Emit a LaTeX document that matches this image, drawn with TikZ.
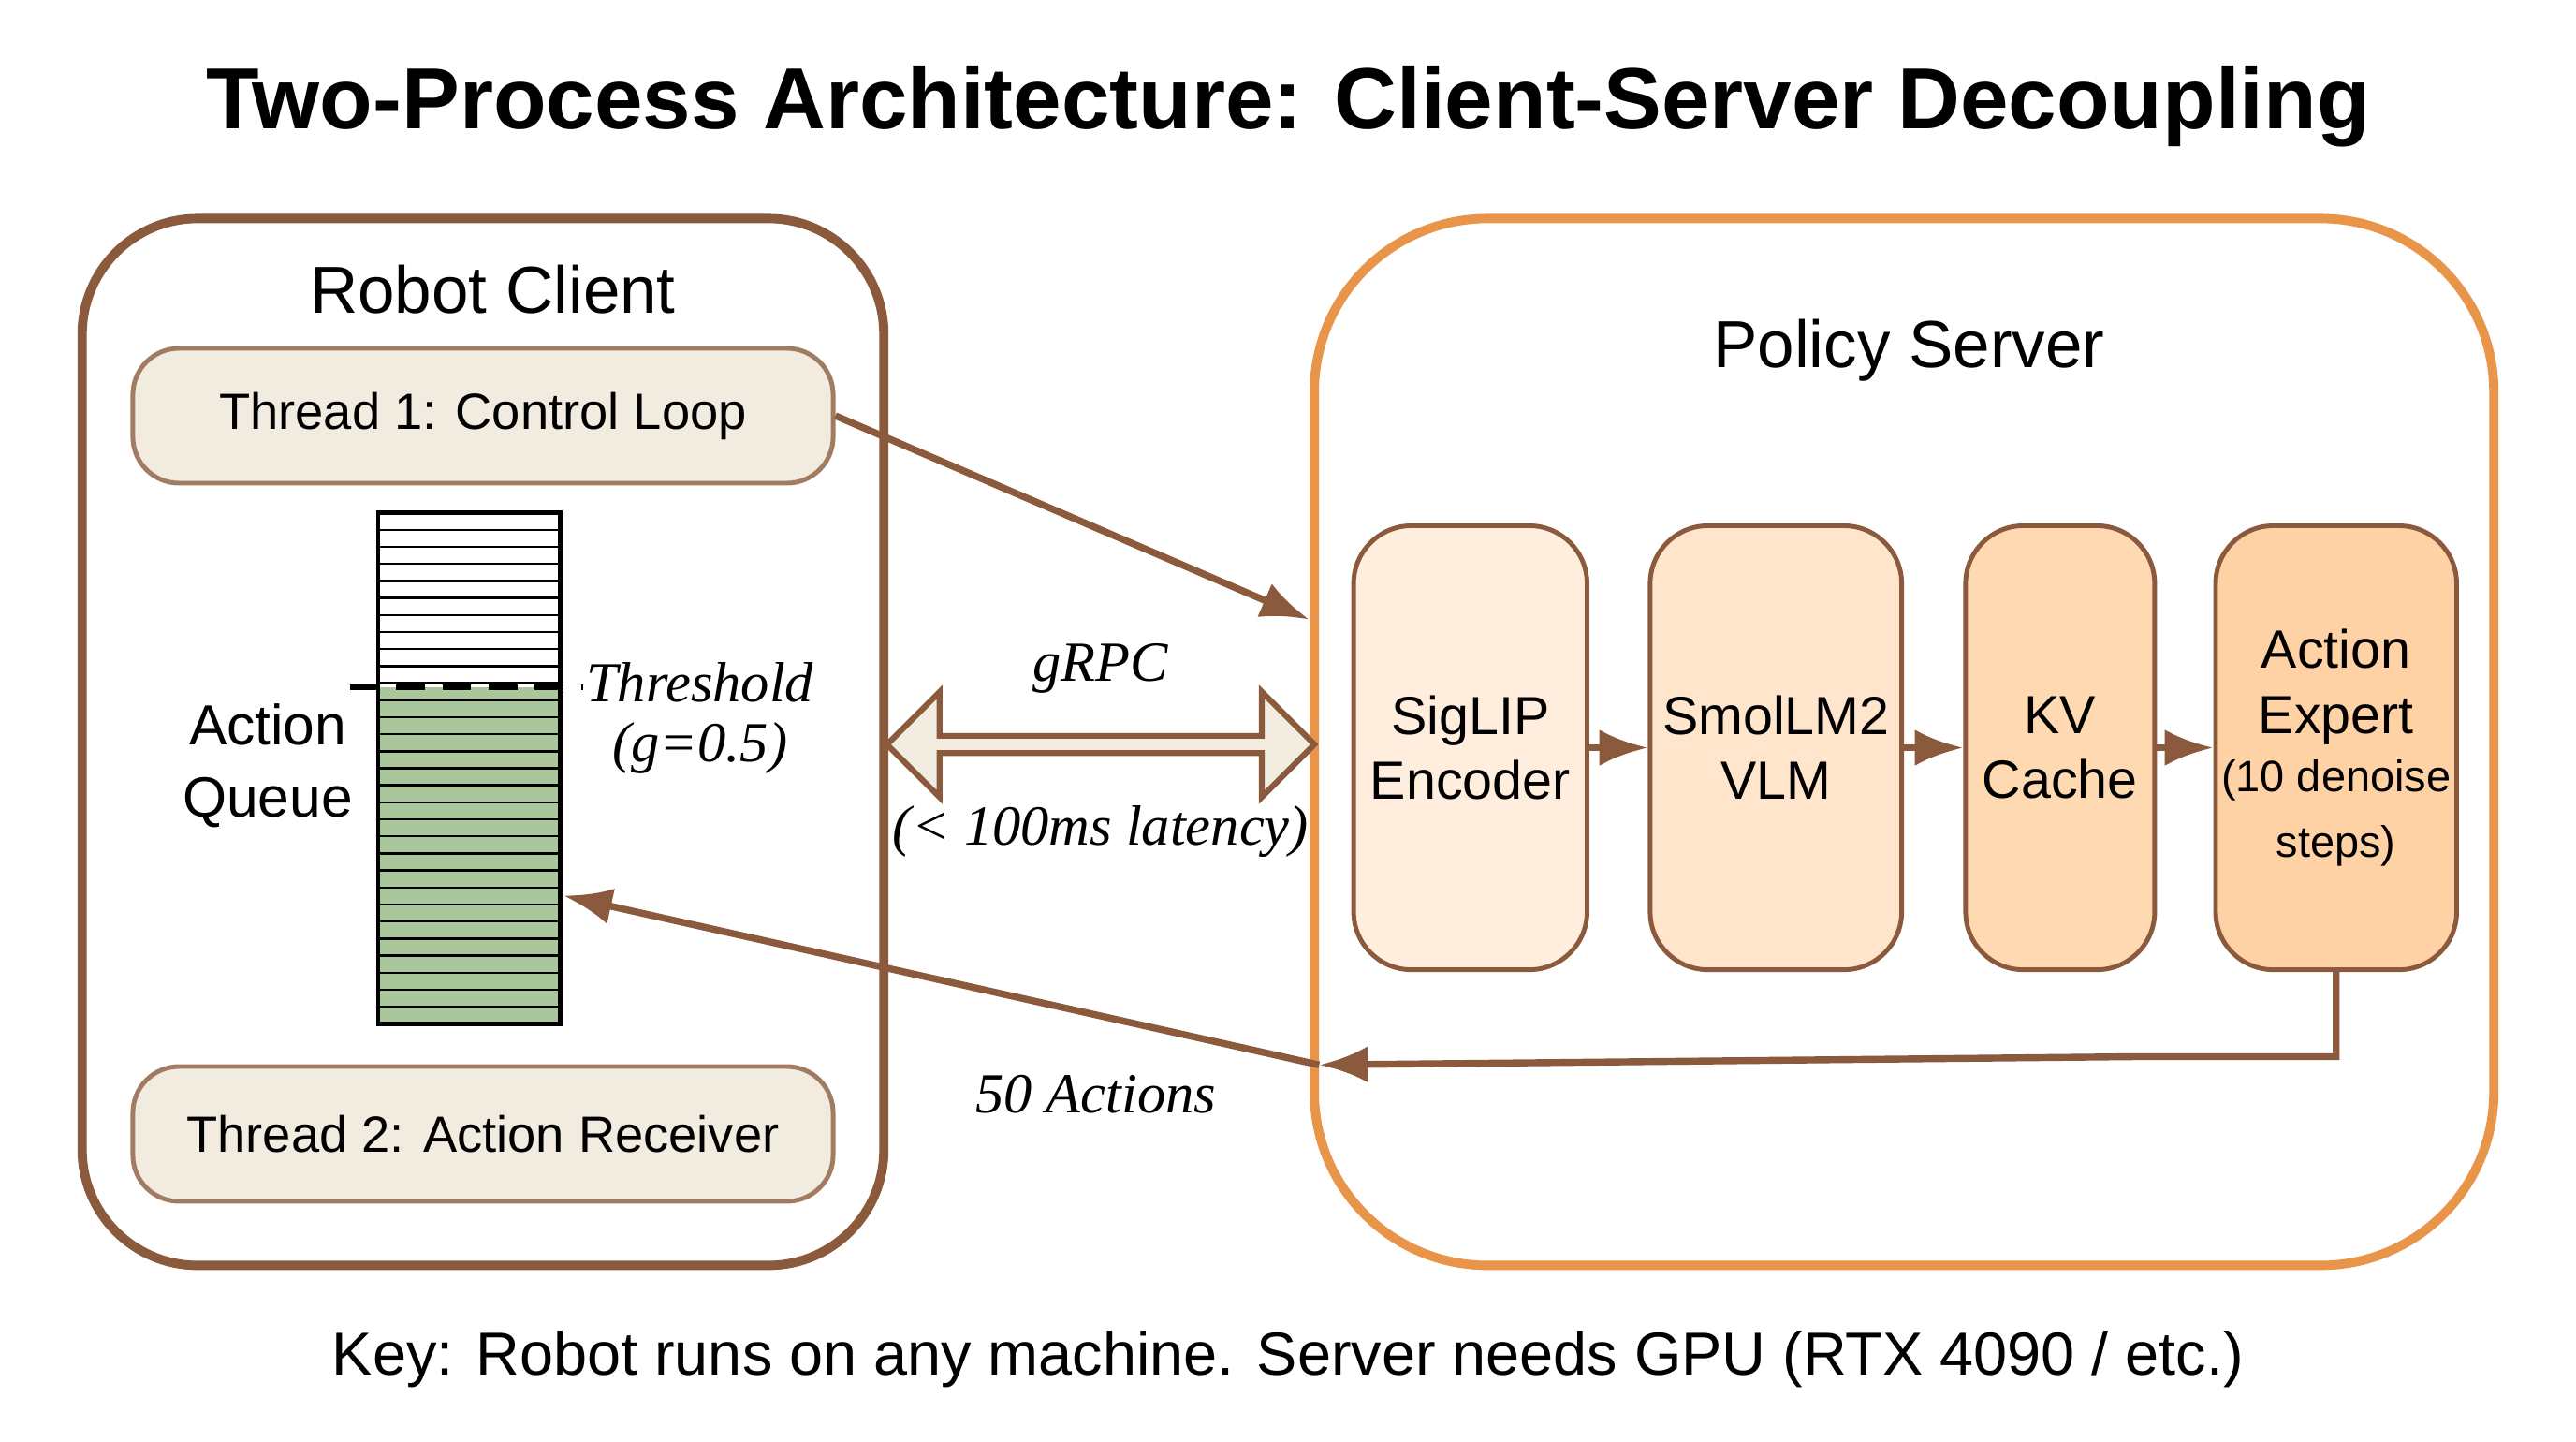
\documentclass[tikz,border=0pt]{standalone}
\usepackage{fontspec}
\setmainfont{Liberation Sans}
\newfontfamily\serifit{Liberation Serif}
\usetikzlibrary{arrows.meta,positioning,shapes.arrows}
\definecolor{brownline}{HTML}{8B5A3C}
\definecolor{orangeline}{HTML}{E8954A}
\definecolor{threadfill}{HTML}{F1EBE0}
\definecolor{queuegreen}{HTML}{A9C79B}
\tikzset{>=Latex,
  thread/.style={draw=brownline!80,fill=threadfill,rounded corners=8pt,line width=0.8pt,minimum width=4.26cm,minimum height=0.82cm,font=\fontsize{8.8}{11}\selectfont},
  block/.style={draw=brownline,rounded corners=10pt,line width=0.8pt,minimum height=2.7cm,inner sep=1pt,align=center,font=\fontsize{9.3}{11.2}\selectfont},
  flow/.style={->,draw=brownline,line width=1.2pt},
  note/.style={font=\serifit\itshape\fontsize{9.8}{12}\selectfont}}
\begin{document}
\begin{tikzpicture}[x=0.01cm,y=-0.01cm]
    \useasboundingbox[fill=white] (0,0) rectangle (1568,877);
    \node[font=\bfseries\fontsize{15}{18}\selectfont] (title) at (784,65) {Two-Process Architecture: Client-Server Decoupling};

    % client
    \draw[brownline,line width=1.6pt,rounded corners=20pt] (50,133) rectangle (538,770);
    \node[font=\fontsize{11.5}{14}\selectfont] (client) at (300,176) {Robot Client};
    \node[thread] (t1) at (294,253) {Thread 1: Control Loop};
    \node[thread] (t2) at (294,690) {Thread 2: Action Receiver};

    % queue
    \fill[queuegreen] (230,418) rectangle (341,623);
    \foreach \i in {1,...,29}
      \draw[line width=0.4pt] (230,{312+\i*311/30}) -- (341,{312+\i*311/30});
    \draw[line width=0.7pt] (230,312) rectangle (341,623);
    \coordinate (qin) at (343,545);
    \draw[dash pattern=on 5pt off 3pt,line width=1pt] (213,418) -- (355,418);
    \node[note] (thr) at (426,415) {Threshold};
    \node[note] (g) at (426,455) {(g=0.5)};
    \node[align=center,font=\fontsize{9.8}{12.5}\selectfont] (queue) at (163,466) {Action\\Queue};

    % server
    \draw[orangeline,line width=1.6pt,rounded corners=30pt] (800,133) rectangle (1518,770);
    \node[font=\fontsize{11.5}{14}\selectfont] (server) at (1162,213) {Policy Server};
    \node[block,fill=orange!13,minimum width=1.42cm] (siglip) at (895,455) {SigLIP\\Encoder};
    \node[block,fill=orange!20,minimum width=1.53cm] (smol) at (1081,455) {SmolLM2\\VLM};
    \node[block,fill=orange!30,minimum width=1.15cm] (kv) at (1254,455) {KV\\Cache};
    \node[block,fill=orange!35,minimum width=1.43cm] (expert) at (1422,455) {Action\\Expert\\[-1pt]{\fontsize{7.6}{10}\selectfont (10 denoise}\\{\fontsize{7.6}{10}\selectfont steps)}};
    \draw[flow] (siglip) -- (smol);
    \draw[flow] (smol) -- (kv);
    \draw[flow] (kv) -- (expert);

    % links
    \coordinate (sin) at (797,377);
    \coordinate (sret) at (803,648);
    \draw[flow] (t1.east) -- (sin);
    \draw[flow] (expert.south) |- (1300,643) -- (sret);
    \draw[flow] (sret) -- (qin);
    \node[double arrow,draw=brownline,fill=threadfill,line width=1pt,minimum width=0.64cm,minimum height=2.6cm,double arrow head extend=0.09cm,inner sep=0pt] (grpc) at (670,453) {};
    \node[note,above=0.12cm of grpc] (grpclabel) {gRPC};
    \node[note,below=0.18cm of grpc] (lat) {(< 100ms latency)};
    \node[note] (acts) at (667,666) {50 Actions};

    \node[font=\fontsize{10.5}{13}\selectfont] (key) at (784,827) {Key: Robot runs on any machine. Server needs GPU (RTX 4090 / etc.)};
\end{tikzpicture}
\end{document}
